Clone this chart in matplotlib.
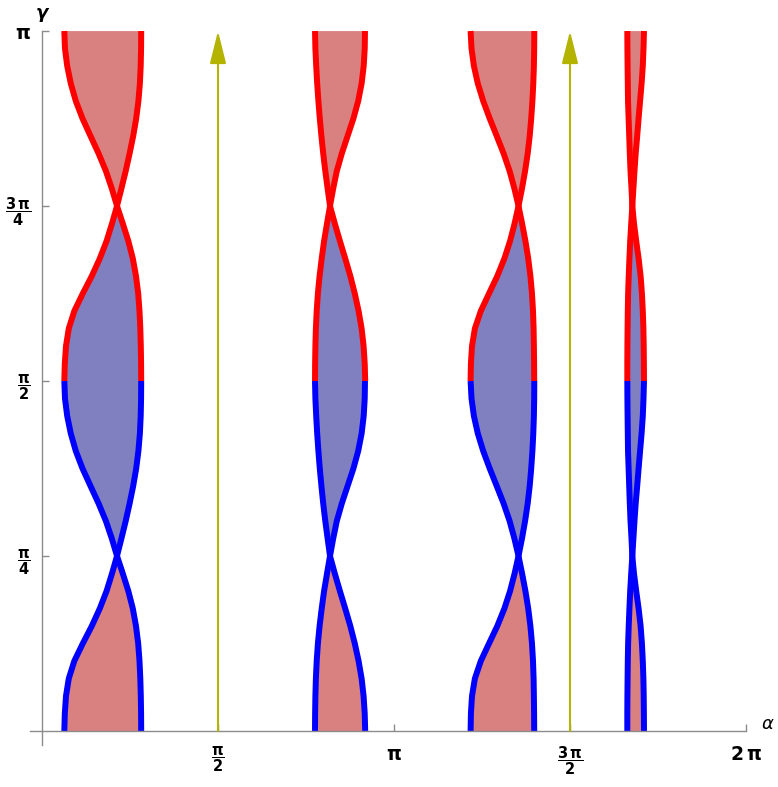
import numpy as np
import matplotlib.pyplot as plt

pi = np.pi

# gamma samples (units of pi) over one half period, 0 .. pi/2
gam = [0.0, 0.025, 0.05, 0.075, 0.1, 0.125, 0.15, 0.175, 0.2, 0.225, 0.25,
       0.275, 0.3, 0.325, 0.35, 0.375, 0.4, 0.425, 0.45, 0.475, 0.5]

# alpha (units of pi) of the left / right edge of each lobe
lobe1_left = [0.0634, 0.0648, 0.0682, 0.0761, 0.0918, 0.1159, 0.1415, 0.1642, 0.1835, 0.1989, 0.2131,
              0.1983, 0.1815, 0.1608, 0.1378, 0.1151, 0.0960, 0.0818, 0.0716, 0.0653, 0.0634]
lobe1_right = [0.2818, 0.2815, 0.2807, 0.2793, 0.2770, 0.2733, 0.2670, 0.2580, 0.2452, 0.2295, 0.2131,
               0.2256, 0.2378, 0.2489, 0.2591, 0.2676, 0.2739, 0.2781, 0.2804, 0.2815, 0.2818]

lobe2_left = [0.7756, 0.7759, 0.7767, 0.7781, 0.7804, 0.7838, 0.7886, 0.7946, 0.8014, 0.8097, 0.8182,
              0.8114, 0.8048, 0.7989, 0.7938, 0.7892, 0.7852, 0.7818, 0.7790, 0.7767, 0.7756]
lobe2_right = [0.9182, 0.9168, 0.9136, 0.9080, 0.8994, 0.8886, 0.8759, 0.8614, 0.8463, 0.8318, 0.8182,
               0.8273, 0.8375, 0.8517, 0.8682, 0.8847, 0.8983, 0.9080, 0.9139, 0.9168, 0.9176]

lobe3_left = [1.2176, 1.2185, 1.2216, 1.2298, 1.2466, 1.2699, 1.2935, 1.3136, 1.3298, 1.3426, 1.3537,
              1.3420, 1.3284, 1.3114, 1.2918, 1.2719, 1.2534, 1.2381, 1.2270, 1.2202, 1.2176]
lobe3_right = [1.3983, 1.3980, 1.3974, 1.3966, 1.3949, 1.3920, 1.3875, 1.3813, 1.3733, 1.3639, 1.3537,
               1.3636, 1.3724, 1.3798, 1.3855, 1.3898, 1.3932, 1.3957, 1.3974, 1.3983, 1.3986]

lobe4_left = [1.6628, 1.6628, 1.6631, 1.6636, 1.6642, 1.6651, 1.6668, 1.6688, 1.6710, 1.6739, 1.6770,
              1.6747, 1.6719, 1.6699, 1.6682, 1.6665, 1.6648, 1.6642, 1.6636, 1.6631, 1.6628]
lobe4_right = [1.7102, 1.7099, 1.7094, 1.7085, 1.7068, 1.7043, 1.7006, 1.6949, 1.6881, 1.6818, 1.6770,
               1.6801, 1.6832, 1.6866, 1.6909, 1.6949, 1.6991, 1.7034, 1.7068, 1.7088, 1.7102]

lobes = [(lobe1_left, lobe1_right), (lobe2_left, lobe2_right),
         (lobe3_left, lobe3_right), (lobe4_left, lobe4_right)]

# the pattern repeats in gamma: lower half blue curves, upper half red curves
half_offsets = [0.0, 0.5]
half_line_colors = ['#0000ff', '#ff0000']
quarter_fill = [['#d98080', '#8080c0'], ['#8080c0', '#d98080']]

# vertical arrows
arrow_alpha = [0.5, 1.5]

fig = plt.figure(figsize=(7.78, 7.87), dpi=100)
ax = fig.add_axes([0, 0, 1, 1])

g0 = np.array(gam)
first_q = g0 <= 0.25
second_q = g0 >= 0.25
for left, right in lobes:
    L = np.array(left) * pi
    R = np.array(right) * pi
    for h, off in enumerate(half_offsets):
        g = (g0 + off) * pi
        for mask, col in zip([first_q, second_q], quarter_fill[h]):
            ax.fill_betweenx(g, L, R, where=mask, facecolor=col, edgecolor=col, lw=0.6)
    for h, off in enumerate(half_offsets):
        g = (g0 + off) * pi
        ax.plot(L, g, color=half_line_colors[h], lw=4.3, solid_capstyle='butt')
        ax.plot(R, g, color=half_line_colors[h], lw=4.3, solid_capstyle='butt')

for a in arrow_alpha:
    ax.annotate('', xy=(a * pi, pi), xytext=(a * pi, 0),
                arrowprops=dict(arrowstyle='-|>,head_length=2.0,head_width=0.5',
                                color='#b3b300', lw=1.5, mutation_scale=10,
                                shrinkA=0, shrinkB=0))

ax.set_xlim(-0.1193 * pi, 2.0909 * pi)
ax.set_ylim(-0.08 * pi, 1.0443 * pi)

for s in ['top', 'right']:
    ax.spines[s].set_visible(False)
ax.spines['left'].set_position(('data', 0))
ax.spines['bottom'].set_position(('data', 0))
ax.spines['left'].set_bounds(-0.02 * pi, pi)
ax.spines['bottom'].set_bounds(-0.035 * pi, 2 * pi)
for s in ['left', 'bottom']:
    ax.spines[s].set_color('#8c8c8c')
    ax.spines[s].set_linewidth(1.0)

ax.set_xticks([pi / 2, pi, 3 * pi / 2, 2 * pi])
ax.set_xticklabels([r'$\mathbf{\dfrac{\pi}{2}}$', r'$\mathbf{\pi}$',
                    r'$\mathbf{\dfrac{3\,\pi}{2}}$', r'$\mathbf{2\,\pi}$'])
ax.set_yticks([pi / 4, pi / 2, 3 * pi / 4, pi])
ax.set_yticklabels([r'$\mathbf{\dfrac{\pi}{4}}$', r'$\mathbf{\dfrac{\pi}{2}}$',
                    r'$\mathbf{\dfrac{3\,\pi}{4}}$', r'$\mathbf{\pi}$'])
ax.tick_params(axis='both', direction='in', length=5, width=1, color='#8c8c8c',
               labelsize=10.5)
ax.tick_params(axis='x', pad=10)
ax.tick_params(axis='y', pad=8)
# plain (non fraction) labels are drawn bigger
for i in [1, 3]:
    ax.get_xticklabels()[i].set_fontsize(13.5)
ax.get_yticklabels()[3].set_fontsize(13.5)

ax.text(0, 1.026 * pi, 'γ', fontsize=13, fontweight='bold', fontstyle='italic',
        ha='center', va='center')
ax.text(2.045 * pi, 0.01 * pi, 'α', fontsize=13, fontstyle='italic',
        ha='left', va='center')

fig.savefig('out.png', dpi=100)
